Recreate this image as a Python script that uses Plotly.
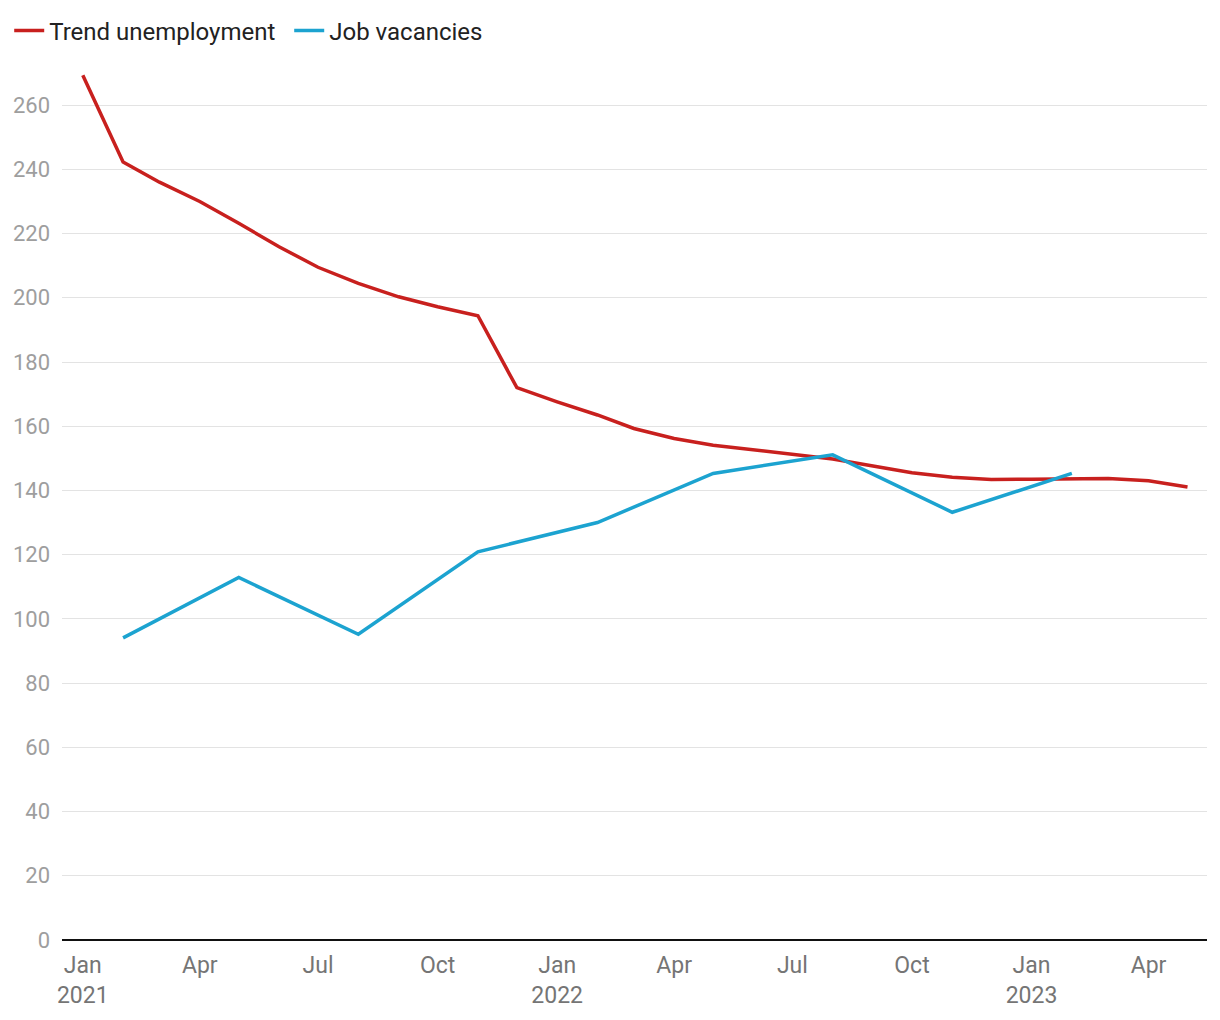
import plotly.graph_objects as go

# Trend unemployment (monthly, Jan 2021 - May 2023), thousands
unemp_dates = ["2021-01-01", "2021-02-01", "2021-03-01", "2021-04-01", "2021-05-01", "2021-06-01",
               "2021-07-01", "2021-08-01", "2021-09-01", "2021-10-01", "2021-11-01", "2021-12-01",
               "2022-01-01", "2022-02-01", "2022-03-01", "2022-04-01", "2022-05-01", "2022-06-01",
               "2022-07-01", "2022-08-01", "2022-09-01", "2022-10-01", "2022-11-01", "2022-12-01",
               "2023-01-01", "2023-02-01", "2023-03-01", "2023-04-01", "2023-05-01"]
unemp_values = [269.3, 242.3, 236.0, 230.0, 223.2, 215.9, 209.5, 204.5, 200.3, 197.2, 194.4, 172.0,
                167.6, 163.5, 159.3, 156.2, 154.1, 152.6, 151.3, 149.8, 147.6, 145.5, 144.1, 143.4,
                143.5, 143.7, 143.7, 143.0, 141.1]

# Job vacancies (quarterly, mid-quarter months)
vac_dates = ["2021-02-01", "2021-05-01", "2021-08-01", "2021-11-01", "2022-02-01",
             "2022-05-01", "2022-08-01", "2022-11-01", "2023-02-01"]
vac_values = [94.1, 112.9, 95.2, 120.9, 130.0, 145.3, 151.1, 133.2, 145.3]

tick_dates = ["2021-01-01", "2021-04-01", "2021-07-01", "2021-10-01", "2022-01-01", "2022-04-01",
              "2022-07-01", "2022-10-01", "2023-01-01", "2023-04-01"]
tick_labels = ["Jan<br>2021", "Apr", "Jul", "Oct", "Jan<br>2022", "Apr", "Jul", "Oct", "Jan<br>2023", "Apr"]
y_ticks = list(range(0, 261, 20))

fig = go.Figure()
fig.add_trace(go.Scatter(x=unemp_dates, y=unemp_values, mode="lines", name="Trend unemployment",
                         line=dict(color="#c8201e", width=3.5)))
fig.add_trace(go.Scatter(x=vac_dates, y=vac_values, mode="lines", name="Job vacancies",
                         line=dict(color="#1ca3d0", width=3.5)))

fig.update_layout(
    width=1204, height=1004,
    margin=dict(l=54, r=5, t=65, b=72),
    paper_bgcolor="white", plot_bgcolor="white",
    font=dict(family="Roboto", size=22, color="#999999"),
    showlegend=True,
    legend=dict(orientation="h", x=0.001, y=1 - 23 / 1004, xref="container", yref="container",
                xanchor="left", yanchor="middle", font=dict(size=24, color="#222222"),
                itemwidth=30, entrywidth=235, tracegroupgap=0, bgcolor="rgba(0,0,0,0)"),
    xaxis=dict(type="date", range=["2020-12-16", "2023-05-16"], tickmode="array",
               tickvals=tick_dates, ticktext=tick_labels, showgrid=False, zeroline=False,
               showline=False, ticks="", ticklabelstandoff=9, automargin=False,
               tickfont=dict(size=23, color="#757575")),
    yaxis=dict(range=[0, 270], tickmode="array", tickvals=y_ticks, showgrid=True,
               gridcolor="#e3e3e3", gridwidth=1, zeroline=True, zerolinecolor="#111111",
               zerolinewidth=2, ticks="", ticklabelstandoff=11, automargin=False,
               tickfont=dict(size=22, color="#9e9e9e")),
)

fig.write_html("out.html")
